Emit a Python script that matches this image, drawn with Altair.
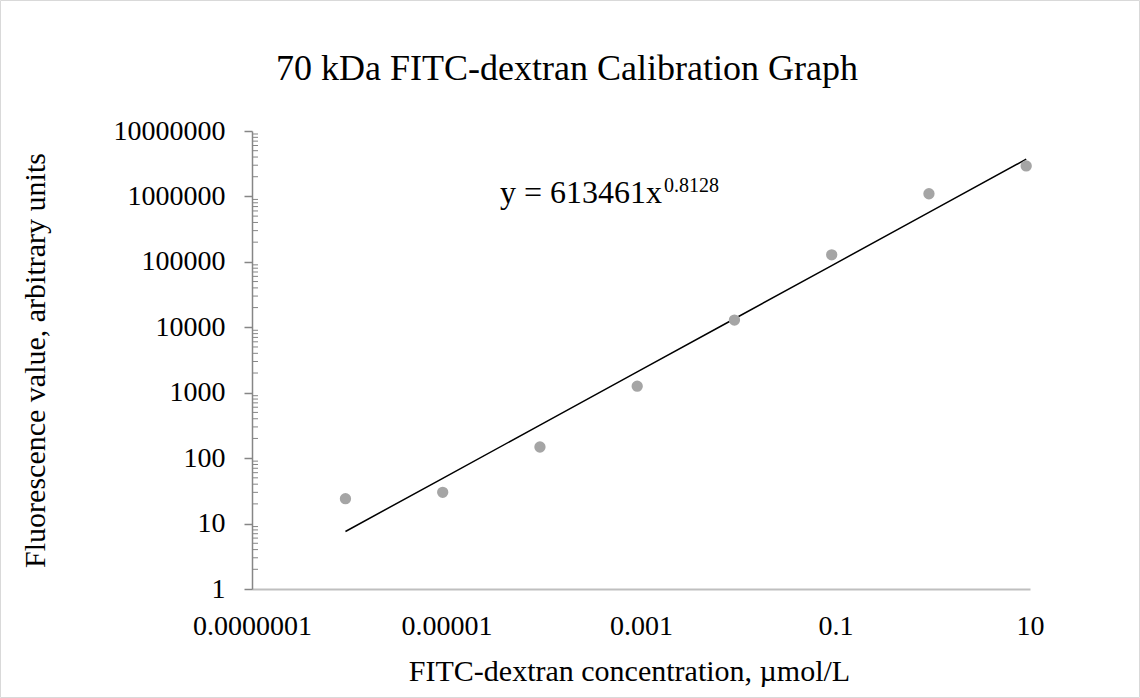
import altair as alt
import pandas as pd

# ---- data ----
conc = [9.14e-7, 9.14e-6, 9.14e-5, 9.14e-4, 9.14e-3, 9.14e-2, 0.914, 9.14]
fluor = [24, 30, 148, 1260, 12900, 128000, 1100000, 2930000]
x_ticks = [1e-7, 1e-5, 1e-3, 0.1, 10]
y_ticks = [1, 10, 100, 1000, 10000, 100000, 1000000, 10000000]
y_minor_steps = [2, 3, 4, 5, 6, 7, 8, 9]
y_decades = [1, 10, 100, 1000, 10000, 100000, 1000000]
fit_a = 613461
fit_b = 0.8128

title_text = "70 kDa FITC-dextran Calibration Graph"
x_title = "FITC-dextran concentration, µmol/L"
y_title = "Fluorescence value, arbitrary units"

FONT = "Liberation Serif"
W, H = 778, 458
PAD_L, PAD_T = 252, 131
PAD_R, PAD_B = 1140 - PAD_L - W, 698 - PAD_T - H

df = pd.DataFrame({"conc": conc, "fluor": fluor})
minor_df = pd.DataFrame({"v": [d * m for d in y_decades for m in y_minor_steps]})

xscale = alt.Scale(type="log", domain=[1e-7, 10], nice=False)
yscale = alt.Scale(type="log", domain=[1, 1e7], nice=False)

x_axis = alt.Axis(
    values=x_ticks, format=".7~f", labelFlush=False, labelOverlap=False,
    ticks=False, domainColor="#bfbfbf", domainWidth=2, grid=False,
    labelFont=FONT, labelFontSize=28, labelColor="black", labelPadding=23,
    title=x_title, titleFont=FONT, titleFontSize=30, titleFontWeight="normal",
    titleColor="black", titleX=377, titleY=82, titleBaseline="middle",
    titleAlign="center",
)
y_axis = alt.Axis(
    values=y_ticks, format="d", labelOverlap=False, tickSize=8,
    tickColor="#868686", domainColor="#868686", domainWidth=1.5, tickWidth=1.5,
    grid=False, labelFont=FONT, labelFontSize=28, labelColor="black",
    labelPadding=19, title=y_title, titleFont=FONT, titleFontSize=30,
    titleFontWeight="normal", titleColor="black", titleX=-217, titleY=H / 2,
    titleAngle=-90, titleBaseline="middle", titleAlign="center",
)

base = alt.Chart(df)

points = base.mark_circle(color="#a5a5a5", opacity=1, size=128).encode(
    x=alt.X("conc:Q", scale=xscale, axis=x_axis),
    y=alt.Y("fluor:Q", scale=yscale, axis=y_axis),
)

trend = base.transform_calculate(
    trend=f"{fit_a} * pow(datum.conc, {fit_b})"
).mark_line(color="black", strokeWidth=1.5).encode(
    x=alt.X("conc:Q", scale=xscale),
    y=alt.Y("trend:Q", scale=yscale),
)

minor = alt.Chart(minor_df).mark_rule(color="#868686", strokeWidth=1).encode(
    y=alt.Y("v:Q", scale=yscale),
    x=alt.value(0),
    x2=alt.value(6),
)

one = alt.Data(values=[{}])
eq_main = alt.Chart(one).mark_text(
    align="left", baseline="alphabetic", font=FONT, fontSize=32, color="black"
).encode(x=alt.value(248), y=alt.value(72), text=alt.value(f"y = {fit_a}x"))
eq_sup = alt.Chart(one).mark_text(
    align="left", baseline="alphabetic", font=FONT, fontSize=20, color="black"
).encode(x=alt.value(412), y=alt.value(61), text=alt.value(f"{fit_b}"))

title_mark = alt.Chart(one).mark_text(
    align="center", baseline="alphabetic", font=FONT, fontSize=36, color="black"
).encode(x=alt.value(567 - PAD_L), y=alt.value(80 - PAD_T), text=alt.value(title_text))

frame = alt.Chart(one).mark_rect(
    filled=False, stroke="#d9d9d9", strokeWidth=1
).encode(
    x=alt.value(-PAD_L + 0.5), x2=alt.value(W + PAD_R - 0.5),
    y=alt.value(-PAD_T + 0.5), y2=alt.value(H + PAD_B - 0.5),
)

chart = alt.layer(frame, minor, trend, points, eq_main, eq_sup, title_mark).properties(
    width=W, height=H,
    autosize=alt.AutoSizeParams(type="none"),
    padding={"left": PAD_L, "top": PAD_T, "right": PAD_R, "bottom": PAD_B},
).configure(background="white").configure_view(stroke=None)

chart.save("out.html", embed_options={"renderer": "svg", "actions": False})
